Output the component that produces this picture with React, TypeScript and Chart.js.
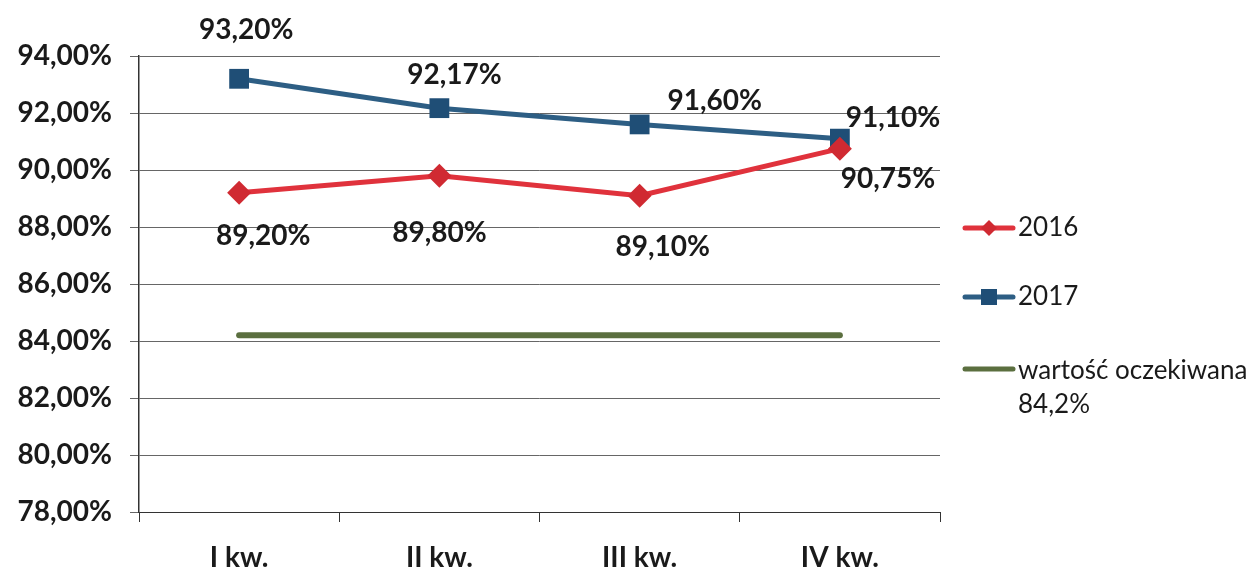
import React, { useEffect, useRef } from "react";
import { Chart, registerables } from "chart.js";

Chart.register(...registerables);

const categories = ["I kw.", "II kw.", "III kw.", "IV kw."];
const values2016 = [89.2, 89.8, 89.1, 90.75];
const values2017 = [93.2, 92.17, 91.6, 91.1];
const expectedValue = 84.2;
const expectedValues = [expectedValue, expectedValue, expectedValue, expectedValue];
const seriesNames = ["2016", "2017", "wartość oczekiwana"];
const expectedLegendSub = "84,2%";

// label placement offsets (layout, not data)
const offsets2016: [number, number][] = [[24, 43], [0, 57], [23, 51], [48, 30]];
const offsets2017: [number, number][] = [[7, -49], [15, -33], [75, -23], [53, -21]];

const RED = "#E0323C";
const RED_DARK = "#D02A32";
const BLUE = "#2D5E84";
const BLUE_DARK = "#1F4E76";
const GREEN = "#5B6F3F";
const FONT = "Lato, 'Open Sans', sans-serif";

const fmt = (v: number) => v.toFixed(2).replace(".", ",") + "%";

const labelsPlugin = {
  id: "customLabels",
  afterDatasetsDraw(chart: any) {
    const ctx = chart.ctx;
    ctx.save();
    ctx.font = `bold 28px ${FONT}`;
    ctx.fillStyle = "#1a1a1a";
    ctx.textAlign = "center";
    ctx.textBaseline = "middle";
    const sets: [number, [number, number][]][] = [[0, offsets2016], [1, offsets2017]];
    for (const [di, offs] of sets) {
      const meta = chart.getDatasetMeta(di);
      const data = chart.data.datasets[di].data as number[];
      meta.data.forEach((pt: any, i: number) => {
        ctx.fillText(fmt(data[i]), pt.x + offs[i][0], pt.y + offs[i][1]);
      });
    }
    ctx.restore();
  },
  afterDraw(chart: any) {
    const ctx = chart.ctx;
    ctx.save();
    const lx0 = 965;
    const lx1 = 1013;
    const tx = 1018;
    const rows = [228, 297, 369];
    ctx.lineCap = "round";
    // 2016
    ctx.strokeStyle = RED;
    ctx.lineWidth = 5;
    ctx.beginPath();
    ctx.moveTo(lx0, rows[0]);
    ctx.lineTo(lx1, rows[0]);
    ctx.stroke();
    ctx.fillStyle = RED_DARK;
    const cx = (lx0 + lx1) / 2;
    ctx.beginPath();
    ctx.moveTo(cx, rows[0] - 8);
    ctx.lineTo(cx + 8, rows[0]);
    ctx.lineTo(cx, rows[0] + 8);
    ctx.lineTo(cx - 8, rows[0]);
    ctx.closePath();
    ctx.fill();
    // 2017
    ctx.strokeStyle = BLUE;
    ctx.beginPath();
    ctx.moveTo(lx0, rows[1]);
    ctx.lineTo(lx1, rows[1]);
    ctx.stroke();
    ctx.fillStyle = BLUE_DARK;
    ctx.fillRect(cx - 8, rows[1] - 8, 16, 16);
    // expected
    ctx.strokeStyle = GREEN;
    ctx.lineWidth = 5;
    ctx.beginPath();
    ctx.moveTo(lx0, rows[2]);
    ctx.lineTo(lx1, rows[2]);
    ctx.stroke();

    ctx.fillStyle = "#1a1a1a";
    ctx.font = `26px ${FONT}`;
    ctx.textAlign = "left";
    ctx.textBaseline = "middle";
    ctx.fillText(seriesNames[0], tx, rows[0]);
    ctx.fillText(seriesNames[1], tx, rows[1]);
    ctx.fillText(seriesNames[2], tx, rows[2] + 2);
    ctx.fillText(expectedLegendSub, tx, rows[2] + 36);
    ctx.restore();
  },
};

export default function App() {
  const ref = useRef<HTMLCanvasElement>(null);
  useEffect(() => {
    if (!ref.current) return;
    const chart = new Chart(ref.current, {
      type: "line",
      data: {
        labels: categories,
        datasets: [
          {
            label: seriesNames[0],
            data: values2016,
            borderColor: RED,
            backgroundColor: RED_DARK,
            borderWidth: 5,
            pointStyle: "rectRot",
            pointRadius: 12,
            pointBorderWidth: 0,
            pointBackgroundColor: RED_DARK,
            tension: 0,
          },
          {
            label: seriesNames[1],
            data: values2017,
            borderColor: BLUE,
            backgroundColor: BLUE_DARK,
            borderWidth: 5,
            pointStyle: "rect",
            pointRadius: 14,
            pointBorderWidth: 0,
            pointBackgroundColor: BLUE_DARK,
            tension: 0,
          },
          {
            label: seriesNames[2],
            data: expectedValues,
            borderColor: GREEN,
            borderWidth: 6,
            borderCapStyle: "round",
            pointRadius: 0,
            tension: 0,
          },
        ],
      },
      options: {
        animation: false,
        responsive: false,
        maintainAspectRatio: false,
        layout: { padding: { left: 0, right: 314, top: 56, bottom: 0 } },
        plugins: { legend: { display: false }, tooltip: { enabled: false } },
        scales: {
          x: {
            offset: true,
            grid: {
              offset: true,
              drawOnChartArea: false,
              drawTicks: true,
              tickLength: 10,
              color: "#333",
              lineWidth: 1,
            },
            border: { color: "#333", width: 1 },
            ticks: {
              color: "#1a1a1a",
              padding: 19,
              font: { family: FONT, size: 28, weight: "bold" },
              maxRotation: 0,
            },
            afterFit: (s: any) => {
              s.height = 63;
            },
          },
          y: {
            min: 78,
            max: 94,
            grid: { color: "#666", lineWidth: 1, tickLength: 9, drawTicks: true },
            border: { color: "#333", width: 1.5 },
            ticks: {
              stepSize: 2,
              color: "#1a1a1a",
              padding: 18,
              font: { family: FONT, size: 28, weight: "bold" },
              callback: (v: any) => fmt(Number(v)),
            },
            afterFit: (s: any) => {
              s.width = 139;
            },
          },
        },
      },
      plugins: [labelsPlugin],
    } as any);
    return () => chart.destroy();
  }, []);
  return (
    <div style={{ position: "fixed", left: 0, top: 0, width: 1254, height: 575, background: "#fff" }}>
      <canvas ref={ref} width={1254} height={575} style={{ width: 1254, height: 575, display: "block" }} />
    </div>
  );
}
